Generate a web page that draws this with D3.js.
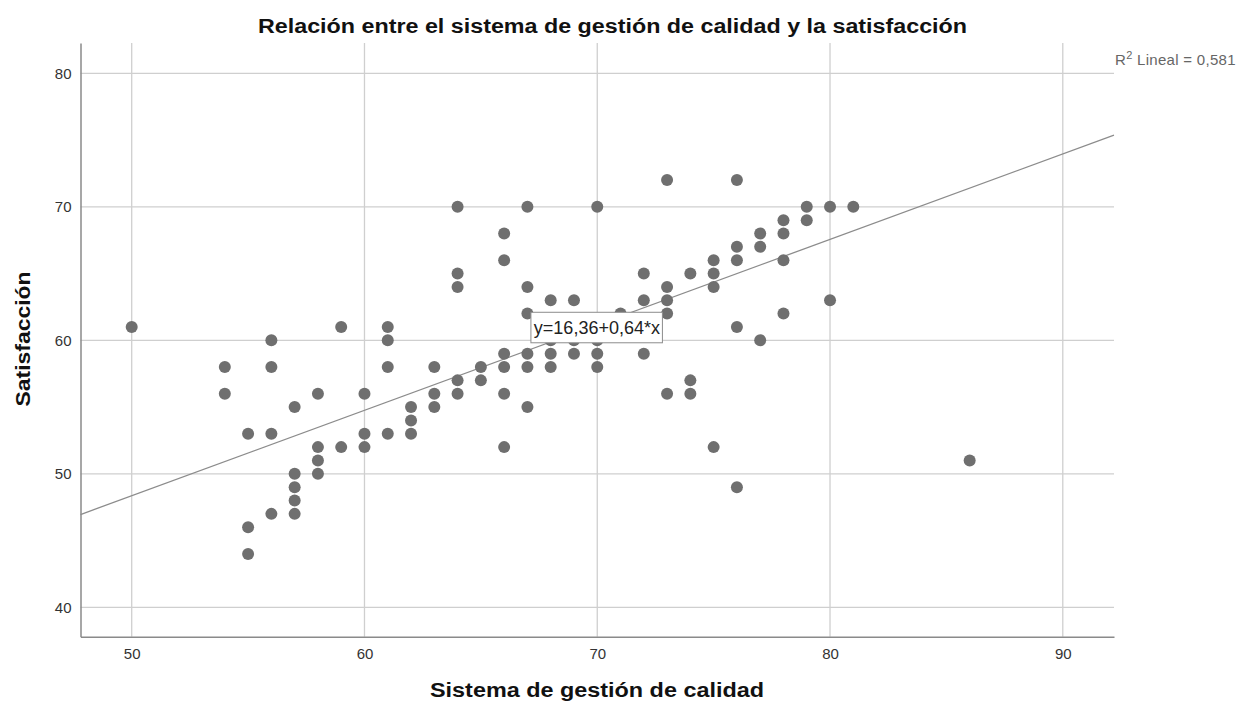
<!DOCTYPE html>
<html>
<head>
<meta charset="utf-8">
<script src="https://cdn.jsdelivr.net/npm/d3@7"></script>
<style>
  body { margin: 0; background: #fff; }
  #chart { width: 1239px; height: 710px; }
  text { font-family: "Liberation Sans", Arial, sans-serif; }
</style>
</head>
<body>
<div id="chart"></div>
<script>
// data (integer scores)
const sistema = [
  50,
  54, 54,
  55, 55, 55,
  56, 56, 56, 56,
  57, 57, 57, 57, 57,
  58, 58, 58, 58,
  59, 59,
  60, 60, 60,
  61, 61, 61, 61,
  62, 62, 62,
  63, 63, 63,
  64, 64, 64, 64, 64,
  65, 65,
  66, 66, 66, 66, 66, 66,
  67, 67, 67, 67, 67, 67,
  68, 68, 68, 68,
  69, 69, 69,
  70, 70, 70, 70,
  71,
  72, 72, 72,
  73, 73, 73, 73, 73,
  74, 74, 74,
  75, 75, 75, 75,
  76, 76, 76, 76, 76,
  77, 77, 77,
  78, 78, 78, 78,
  79, 79,
  80, 80,
  81,
  86
];
const satisfaccion = [
  61,
  58, 56,
  53, 46, 44,
  60, 58, 53, 47,
  55, 50, 49, 48, 47,
  56, 52, 51, 50,
  61, 52,
  56, 53, 52,
  61, 60, 58, 53,
  55, 54, 53,
  58, 56, 55,
  70, 65, 64, 57, 56,
  58, 57,
  68, 66, 59, 58, 56, 52,
  70, 64, 62, 59, 58, 55,
  63, 60, 59, 58,
  63, 60, 59,
  70, 60, 59, 58,
  62,
  65, 63, 59,
  72, 64, 63, 62, 56,
  65, 57, 56,
  66, 65, 64, 52,
  72, 67, 66, 61, 49,
  68, 67, 60,
  69, 68, 66, 62,
  70, 69,
  70, 63,
  70,
  51
];
const xTicks = [50, 60, 70, 80, 90];
const yTicks = [40, 50, 60, 70, 80];
const intercept = 16.36;
const slope = 0.64;
const r2 = "0,581";

const points = sistema.map(function(d, i) { return { x: d, y: satisfaccion[i] }; });

// 1. canvas
const width = 1239;
const height = 710;
const margin = { top: 43, left: 80.5, right: 125, bottom: 73.3 };

const svg = d3.select("#chart")
    .append("svg")
    .attr("width", width)
    .attr("height", height);

// 2. scales
const xScale = d3.scaleLinear()
    .domain([47.8, 92.2])
    .range([margin.left, width - margin.right]);

const yScale = d3.scaleLinear()
    .domain([37.8, 82.27])
    .range([height - margin.bottom, margin.top]);

// 3. grid
svg.append("g")
    .selectAll("line")
    .data(xTicks)
    .enter()
    .append("line")
        .attr("x1", function(d) { return xScale(d); })
        .attr("x2", function(d) { return xScale(d); })
        .attr("y1", margin.top)
        .attr("y2", height - margin.bottom)
        .attr("stroke", "#cfcfcf")
        .attr("stroke-width", 1.3);

svg.append("g")
    .selectAll("line")
    .data(yTicks)
    .enter()
    .append("line")
        .attr("x1", margin.left)
        .attr("x2", width - margin.right)
        .attr("y1", function(d) { return yScale(d); })
        .attr("y2", function(d) { return yScale(d); })
        .attr("stroke", "#cfcfcf")
        .attr("stroke-width", 1.3);

// 4. axes
const xAxis = svg.append("g")
    .attr("transform", `translate(0,${height - margin.bottom})`)
    .call(d3.axisBottom(xScale).tickValues(xTicks).tickSize(0).tickPadding(12));

const yAxis = svg.append("g")
    .attr("transform", `translate(${margin.left},0)`)
    .call(d3.axisLeft(yScale).tickValues(yTicks).tickSize(0).tickPadding(9));

[xAxis, yAxis].forEach(function(a) {
    a.select(".domain").attr("stroke", "#8a8a8a").attr("stroke-width", 1.5);
    a.selectAll("text")
        .attr("font-size", 15)
        .attr("fill", "#333")
        .attr("font-family", "Liberation Sans, Arial, sans-serif");
});

// 5. fit line
svg.append("line")
    .attr("x1", xScale(47.8))
    .attr("y1", yScale(intercept + slope * 47.8))
    .attr("x2", xScale(92.2))
    .attr("y2", yScale(intercept + slope * 92.2))
    .attr("stroke", "#8c8c8c")
    .attr("stroke-width", 1.3);

// 6. points
svg.append("g")
    .selectAll("circle")
    .data(points)
    .enter()
    .append("circle")
        .attr("cx", function(d) { return xScale(d.x); })
        .attr("cy", function(d) { return yScale(d.y); })
        .attr("r", 6)
        .attr("fill", "#6f6f6f");

// 7. equation label
const lblX = xScale(67.15);
const lblY = yScale(62.1);
svg.append("rect")
    .attr("x", lblX)
    .attr("y", lblY)
    .attr("width", 131.5)
    .attr("height", 30.5)
    .attr("fill", "#fff")
    .attr("stroke", "#8c8c8c")
    .attr("stroke-width", 1);

svg.append("text")
    .attr("x", lblX + 66)
    .attr("y", lblY + 22)
    .attr("text-anchor", "middle")
    .attr("font-size", 18)
    .attr("fill", "#222")
    .text("y=16,36+0,64*x");

// 8. R2 label
const r2Label = svg.append("text")
    .attr("x", width - margin.right + 1)
    .attr("y", 65)
    .attr("font-size", 15)
    .attr("letter-spacing", 0.3)
    .attr("fill", "#666");
r2Label.append("tspan").text("R");
r2Label.append("tspan").attr("dy", -6).attr("font-size", 11).text("2");
r2Label.append("tspan").attr("dy", 6).text(" Lineal = " + r2);

// 9. titles (stretched a little, like the original render)
svg.append("text")
    .attr("x", 612.5)
    .attr("y", 33)
    .attr("text-anchor", "middle")
    .attr("font-size", 20)
    .attr("font-weight", "bold")
    .attr("fill", "#111")
    .attr("textLength", 709)
    .attr("lengthAdjust", "spacingAndGlyphs")
    .text("Relación entre el sistema de gestión de calidad y la satisfacción");

svg.append("text")
    .attr("x", 597)
    .attr("y", 697)
    .attr("text-anchor", "middle")
    .attr("font-size", 20)
    .attr("font-weight", "bold")
    .attr("fill", "#111")
    .attr("textLength", 334)
    .attr("lengthAdjust", "spacingAndGlyphs")
    .text("Sistema de gestión de calidad");

svg.append("text")
    .attr("transform", "rotate(-90)")
    .attr("x", -339)
    .attr("y", 30)
    .attr("text-anchor", "middle")
    .attr("font-size", 20)
    .attr("font-weight", "bold")
    .attr("fill", "#111")
    .attr("textLength", 135)
    .attr("lengthAdjust", "spacingAndGlyphs")
    .text("Satisfacción");
</script>
</body>
</html>
